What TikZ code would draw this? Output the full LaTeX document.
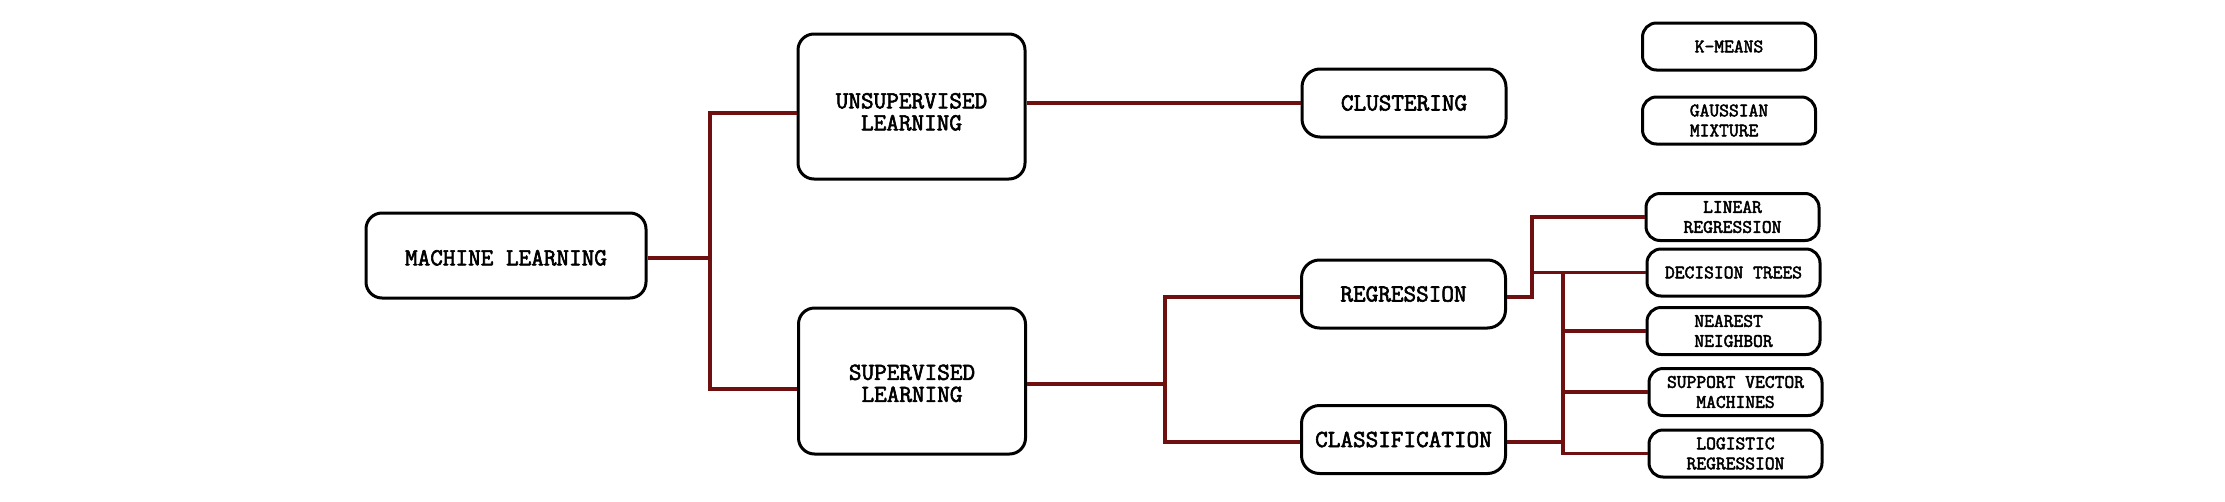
\documentclass[tikz,border=0pt]{standalone}
\usepackage{fontspec}
\newfontfamily\mlfont{Latin Modern Mono}[FakeBold=2.5,AutoFakeBold=2.5]
\usepackage{tikz}
\definecolor{linkred}{RGB}{110,16,16}

\begin{document}
\begin{tikzpicture}[x=1pt,y=-1pt,line width=3pt,
	main node/.style={draw,rounded corners=16pt,align=center,inner sep=0pt,font=\mlfont\bfseries\fontsize{24.5}{22}\selectfont},
	mid node/.style={main node,rounded corners=18pt,minimum width=204pt,minimum height=68pt},
	leaf node/.style={draw,rounded corners=14pt,align=center,inner sep=0pt,minimum width=173pt,minimum height=47pt,font=\mlfont\bfseries\fontsize{19}{20}\selectfont},
	link/.style={draw=linkred,line width=3.3pt}]

	\useasboundingbox (0,0) rectangle (2225,501);

	\node[main node,minimum width=280pt,minimum height=85pt,text height=20pt] (1) at (506,255.5) {MACHINE LEARNING};
	\node[main node,minimum width=227pt,minimum height=145pt,text height=48pt] (2) at (911.5,106.5) {UNSUPERVISED\\LEARNING};
	\node[main node,minimum width=227pt,minimum height=146pt,text height=42pt] (3) at (912,381) {SUPERVISED\\LEARNING};

	\node[mid node] (4) at (1404,103) {CLUSTERING};
	\node[mid node] (5) at (1403.5,294) {REGRESSION};
	\node[mid node] (6) at (1403.5,439.5) {CLASSIFICATION};

	\node[leaf node] (7) at (1729,46.5) {K-MEANS};
	\node[leaf node,align=left] (8) at (1729,120.5) {GAUSSIAN\\MIXTURE};
	\node[leaf node] (9) at (1732.5,217) {LINEAR\\REGRESSION};
	\node[leaf node] (10) at (1733.5,272.5) {DECISION TREES};
	\node[leaf node,align=left] (11) at (1733.5,331) {NEAREST\\NEIGHBOR};
	\node[leaf node] (12) at (1735.5,392) {SUPPORT VECTOR\\MACHINES};
	\node[leaf node] (13) at (1735.5,453.5) {LOGISTIC\\REGRESSION};

	% junctions
	\coordinate (j1) at (710,258);
	\coordinate (j2) at (1165,384);
	\coordinate (j3) at (1532,297);
	\coordinate (j4) at (1563,442);

	\draw[link] (1.east |- j1) -- (j1) |- ([yshift=-6.5pt]2.west);
	\draw[link] (j1) |- ([yshift=-8pt]3.west);
	\draw[link] (2.east |- 4.west) -- (4.west);
	\draw[link] (3.east |- j2) -- (j2) |- ([yshift=-3pt]5.west);
	\draw[link] (j2) |- ([yshift=-2.5pt]6.west);
	\draw[link] (5.east |- j3) -- (j3) |- (9.west);
	\draw[link] (j3 |- 10.west) -- (10.west);
	\draw[link] (6.east |- j4) -- (j4);
	\draw[link] (j4 |- 10.west) |- (13.west);
	\draw[link] (j4 |- 11.west) -- (11.west);
	\draw[link] (j4 |- 12.west) -- (12.west);
\end{tikzpicture}
\end{document}
